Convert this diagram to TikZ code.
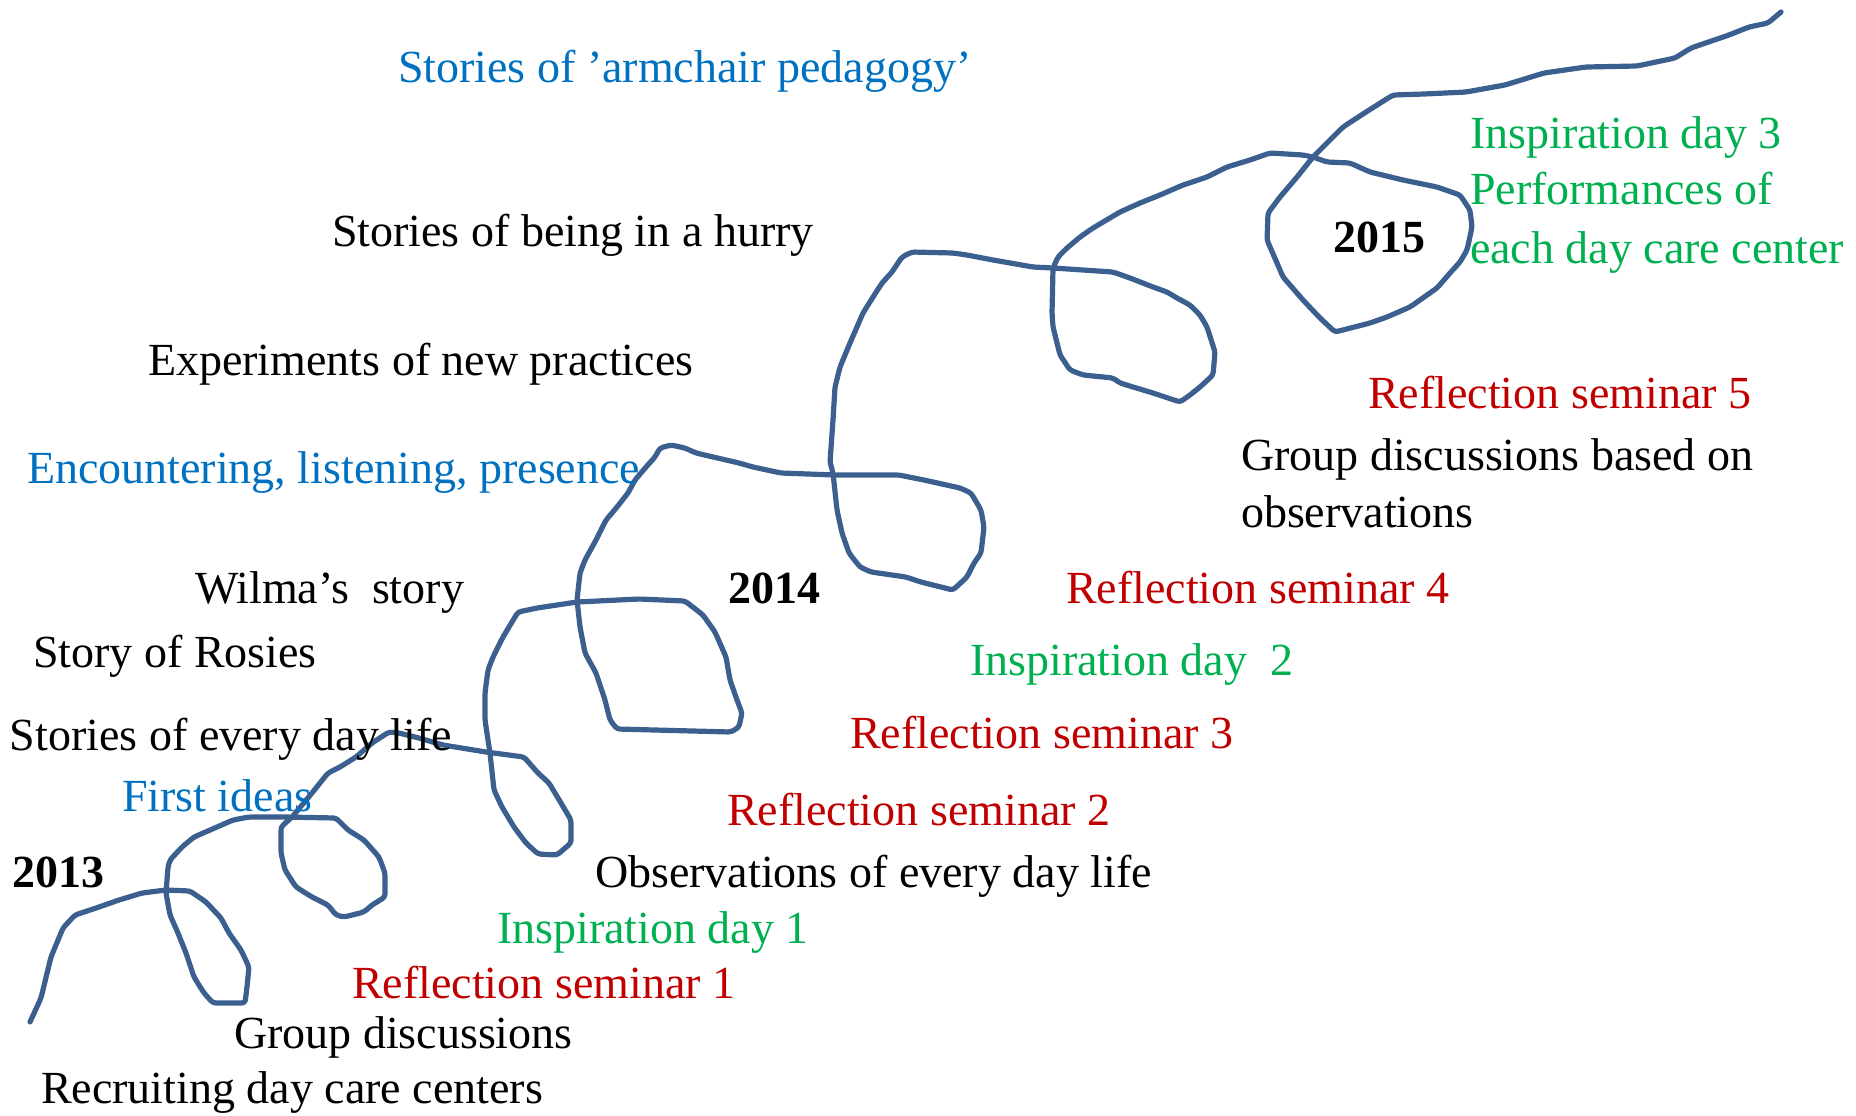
\documentclass[tikz,border=0pt]{standalone}
\usepackage{fontspec}
\setmainfont{Liberation Serif}
\definecolor{pathblue}{HTML}{3B5F8E}
\definecolor{noteblue}{HTML}{0070C0}
\definecolor{notered}{HTML}{C00000}
\definecolor{notegreen}{HTML}{00B050}
\begin{document}
\begin{tikzpicture}[x=0.5pt,y=-0.5pt,
  every node/.style={inner sep=0pt,outer sep=0pt,anchor=base west,font=\fontsize{23}{27}\selectfont},
  plain/.style={text=black},
  idea/.style={text=noteblue},
  seminar/.style={text=notered},
  inspire/.style={text=notegreen},
  year/.style={text=black,font=\fontsize{23}{27}\selectfont\bfseries},
  spiral/.style={draw=pathblue,line width=2.6pt,line join=round,line cap=round,rounded corners=1.5pt}]
\useasboundingbox (0,0) rectangle (1856,1115);

% the spiral timeline, drawn from 2013 (bottom left) up to 2015 (top right)
\draw[spiral] (30,1022) -- (41,998) -- (51,957) -- (63,928) -- (75,915) -- (99,907) -- (119,900)
  -- (142,893) -- (166,890) -- (190,891) -- (206,902) -- (221,918) -- (229,933) -- (241,950)
  -- (249,967) -- (247,987) -- (245,1003) -- (213,1003) -- (204,993) -- (194,977) -- (186,953)
  -- (178,933) -- (170,915) -- (166,893) -- (168,867) -- (170,860) -- (182,847) -- (194,837)
  -- (217,827) -- (233,820) -- (249,817) -- (285,817) -- (336,818) -- (348,830) -- (364,840)
  -- (379,857) -- (385,873) -- (385,897) -- (372,905) -- (364,912) -- (344,917) -- (336,915)
  -- (328,905) -- (312,897) -- (296,887) -- (285,870) -- (281,853) -- (281,827) -- (292,817)
  -- (312,793) -- (328,773) -- (340,767) -- (356,757) -- (372,743) -- (389,732) -- (399,733)
  -- (419,738) -- (443,745) -- (486,752) -- (524,757) -- (538,773) -- (549,783) -- (561,803)
  -- (571,820) -- (571,843) -- (557,855) -- (538,854) -- (526,843) -- (514,827) -- (502,807)
  -- (494,790) -- (490,753) -- (485,720) -- (485,693) -- (488,670) -- (493,657) -- (503,637)
  -- (512,622) -- (518,612) -- (537,608) -- (577,602) -- (639,599) -- (685,601) -- (703,615)
  -- (715,632) -- (726,657) -- (730,680) -- (737,700) -- (742,713) -- (739,727) -- (731,732)
  -- (617,729) -- (610,720) -- (605,700) -- (596,673) -- (585,653) -- (580,627) -- (577,600)
  -- (580,573) -- (585,560) -- (596,540) -- (606,520) -- (617,507) -- (628,493) -- (635,480)
  -- (646,467) -- (655,457) -- (660,448) -- (671,445) -- (685,448) -- (696,453) -- (739,463)
  -- (753,467) -- (781,473) -- (835,475) -- (899,475) -- (924,480) -- (960,488) -- (971,493)
  -- (981,510) -- (984,527) -- (981,553) -- (974,563) -- (967,577) -- (953,590) -- (921,582)
  -- (906,577) -- (871,572) -- (860,567) -- (849,553) -- (842,533) -- (837,510) -- (833,473)
  -- (830,462) -- (833,420) -- (835,387) -- (840,367) -- (850,343) -- (863,313) -- (873,297)
  -- (882,283) -- (892,272) -- (902,257) -- (912,252) -- (953,253) -- (967,255) -- (993,260)
  -- (1033,267) -- (1053,268) -- (1113,272) -- (1130,278) -- (1153,287) -- (1167,292)
  -- (1177,298) -- (1190,305) -- (1200,315) -- (1207,327) -- (1215,352) -- (1213,375)
  -- (1200,387) -- (1190,395) -- (1180,402) -- (1153,393) -- (1133,387) -- (1120,383)
  -- (1113,378) -- (1083,375) -- (1070,370) -- (1060,355) -- (1053,327) -- (1052,313)
  -- (1053,268) -- (1058,257) -- (1067,248) -- (1080,237) -- (1093,228) -- (1120,212)
  -- (1140,203) -- (1160,195) -- (1183,185) -- (1207,177) -- (1227,167) -- (1250,160)
  -- (1270,153) -- (1303,155) -- (1313,157) -- (1327,162) -- (1350,163) -- (1370,172)
  -- (1403,180) -- (1437,187) -- (1460,195) -- (1470,210) -- (1472,227) -- (1467,250)
  -- (1460,262) -- (1450,273) -- (1437,288) -- (1410,307) -- (1387,317) -- (1370,323)
  -- (1335,332) -- (1320,318) -- (1303,300) -- (1283,277) -- (1277,263) -- (1267,240)
  -- (1268,213) -- (1280,197) -- (1297,177) -- (1313,157) -- (1330,140) -- (1343,127)
  -- (1366,112) -- (1393,95) -- (1424,94) -- (1466,92) -- (1505,85) -- (1544,73)
  -- (1586,67) -- (1637,66) -- (1675,58) -- (1691,48) -- (1729,35) -- (1749,27)
  -- (1768,23) -- (1781,12);

% years
\node[year] (y2013) at (12,887) {2013};
\node[year] (y2014) at (728,603) {2014};
\node[year] (y2015) at (1333,252) {2015};

% stories and themes (left side)
\node[idea]  (armchair) at (398,82)  {Stories of ’armchair pedagogy’};
\node[plain] (hurry)    at (332,246) {Stories of being in a hurry};
\node[plain] (experim)  at (148,375) {Experiments of new practices};
\node[idea]  (encount)  at (27,483)  {Encountering, listening, presence};
\node[plain] (wilma)    at (195,603) {Wilma’s\ \ story};
\node[plain] (rosies)   at (33,667)  {Story of Rosies};
\node[plain] (everyday) at (10,750)  {Stories of every day life};
\node[idea]  (firstid)  at (122,811) {First ideas};

% activities (right side)
\node[plain] (groupd)   at (234,1048) {Group discussions};
\node[plain] (recruit)  at (41,1103)  {Recruiting day care centers};
\node[seminar] (rs1)    at (352,998)  {Reflection seminar 1};
\node[inspire] (id1)    at (497,943)  {Inspiration day 1};
\node[plain] (observ)   at (595,887)  {Observations of every day life};
\node[seminar] (rs2)    at (727,825)  {Reflection seminar 2};
\node[seminar] (rs3)    at (850,748)  {Reflection seminar 3};
\node[inspire] (id2)    at (970,675)  {Inspiration day\ \ 2};
\node[seminar] (rs4)    at (1066,603) {Reflection seminar 4};
\node[plain] (gdobsA)   at (1241,470) {Group discussions based on};
\node[plain] (gdobsB)   at (1241,527) {observations};
\node[seminar] (rs5)    at (1368,408) {Reflection seminar 5};
\node[inspire] (id3a)   at (1470,148) {Inspiration day 3};
\node[inspire] (id3b)   at (1470,204) {Performances of};
\node[inspire] (id3c)   at (1470,263) {each day care center};
\end{tikzpicture}
\end{document}
